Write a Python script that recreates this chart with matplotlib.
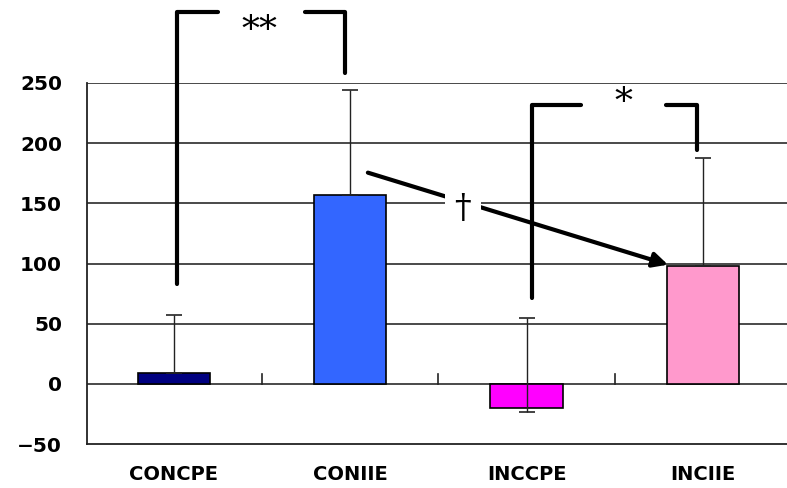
import matplotlib
matplotlib.use("Agg")
import matplotlib.pyplot as plt
import numpy as np

categories = ["CONCPE", "CONIIE", "INCCPE", "INCIIE"]
means = [9, 157, -20, 98]
err_upper = [48, 87, 75, 90]
err_lower = [0, 0, 3, 0]
colors = ["#000080", "#3366FF", "#FF00FF", "#FF99CC"]
yticks = [-50, 0, 50, 100, 150, 200, 250]

fig = plt.figure(figsize=(7.87, 4.88), dpi=100)
ax = fig.add_axes([87 / 787, 44 / 488, 700 / 787, 361 / 488])

x = np.arange(len(categories))
ax.set_xlim(-0.493, 3.477)
ax.set_ylim(-50, 250)

# gridlines
for v in yticks[1:]:
    ax.axhline(v, color="#3a3a3a", lw=1.3, zorder=1)

bars = ax.bar(x, means, width=0.41, color=colors, edgecolor="black", lw=1.2, zorder=3)
ax.errorbar(x, means, yerr=[err_lower, err_upper], fmt="none", ecolor="#222222",
            elinewidth=1.0, capsize=6, capthick=1.2, zorder=4)

# category ticks on zero line between categories
for b in [0.5, 1.5, 2.5]:
    ax.plot([b, b], [0, 8], color="#222222", lw=1.2, zorder=2)

for s in ["top", "right"]:
    ax.spines[s].set_visible(False)
ax.spines["left"].set_linewidth(1.3)
ax.spines["bottom"].set_linewidth(1.3)
ax.spines["left"].set_color("#222222")
ax.spines["bottom"].set_color("#222222")

ax.set_yticks(yticks)
ax.set_yticklabels([str(t).replace("-", "\u2212") if t < 0 else str(t) for t in yticks],
                   fontsize=14.5, fontweight="bold", family="DejaVu Sans")
ax.tick_params(axis="y", length=0, pad=18)
ax.set_xticks(x)
ax.set_xticklabels(categories, fontsize=14, fontweight="bold", family="DejaVu Sans")
ax.tick_params(axis="x", length=0, pad=15)

lk = dict(color="black", lw=3.0, solid_capstyle="round", clip_on=False, zorder=6)
# ** bracket
ax.plot([0.017, 0.017, 0.25], [83, 309, 309], **lk)
ax.plot([0.743, 0.97, 0.97], [309, 309, 258], **lk)
ax.text(0.488, 293, "**", ha="center", va="center", fontsize=26, family="DejaVu Serif",
        clip_on=False)
# * bracket
ax.plot([2.03, 2.03, 2.31], [71, 232, 232], **lk)
ax.plot([2.79, 2.967, 2.967], [232, 232, 194], **lk)
ax.text(2.547, 233, "*", ha="center", va="center", fontsize=26, family="DejaVu Serif")

# dagger arrow
ax.annotate("", xy=(2.802, 99), xytext=(1.10, 175.5),
            arrowprops=dict(arrowstyle="-|>", lw=3.0, color="black", mutation_scale=22,
                            shrinkA=0, shrinkB=0), zorder=6)
ax.text(1.639, 145, "\u2020", ha="center", va="center", fontsize=24, family="DejaVu Serif",
        zorder=7, bbox=dict(facecolor="white", edgecolor="none", pad=7))

fig.savefig("out.png", dpi=100)
